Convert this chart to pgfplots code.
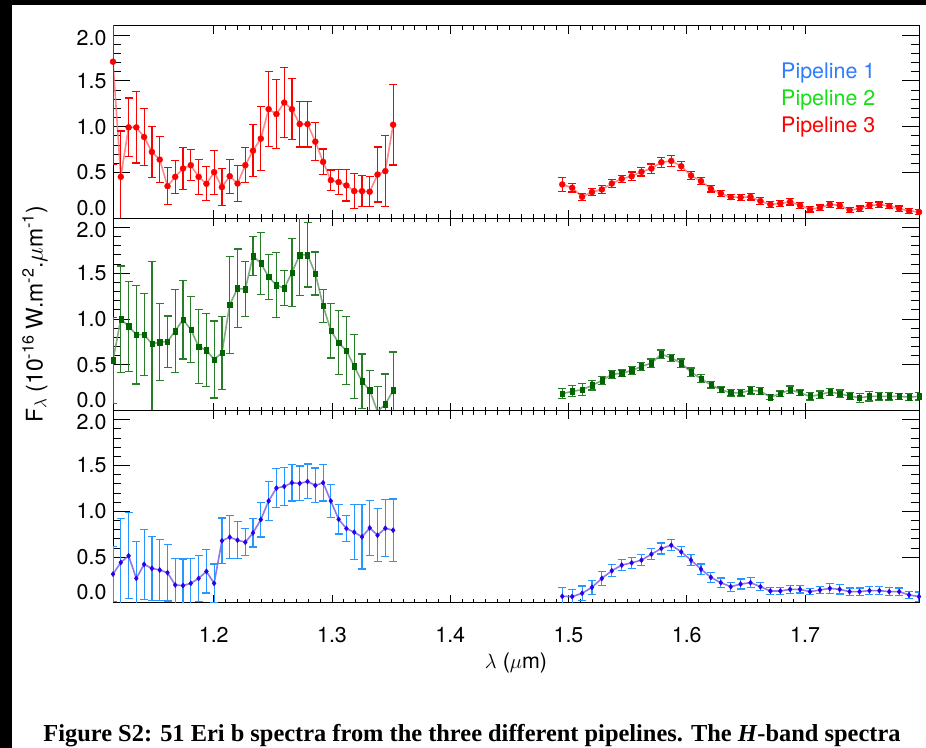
\documentclass[border=0pt]{standalone}
\usepackage{pgfplots}
\pgfplotsset{compat=1.18}
\usepackage{pgfplotstable}
\usepackage{fontspec}
\setmainfont{TeX Gyre Heros}
\newfontfamily\capfont{Liberation Serif}

\definecolor{pOne}{RGB}{45,125,255}
\definecolor{pTwo}{RGB}{20,225,20}
\definecolor{pThree}{RGB}{255,0,0}
\definecolor{markgreen}{RGB}{0,100,0}
\definecolor{errgreen}{RGB}{40,125,40}
\definecolor{linegreen}{RGB}{115,160,115}
\definecolor{markblue}{RGB}{40,0,240}
\definecolor{errblue}{RGB}{40,150,255}
\definecolor{lineblue}{RGB}{125,95,230}
\definecolor{linered}{RGB}{255,115,115}

\pgfplotstableread{
x y e
1.1148 1.710 1.12
1.1214 0.453 0.50
1.1280 0.993 0.32
1.1345 0.993 0.39
1.1411 0.888 0.31
1.1477 0.725 0.28
1.1543 0.641 0.25
1.1609 0.351 0.20
1.1674 0.453 0.18
1.1740 0.544 0.23
1.1806 0.580 0.17
1.1872 0.453 0.19
1.1938 0.377 0.185
1.2003 0.504 0.24
1.2069 0.340 0.20
1.2135 0.460 0.185
1.2201 0.380 0.195
1.2267 0.580 0.19
1.2332 0.739 0.285
1.2398 0.870 0.35
1.2464 1.192 0.41
1.2530 1.138 0.38
1.2596 1.264 0.38
1.2661 1.192 0.335
1.2727 1.029 0.25
1.2793 1.029 0.25
1.2859 0.837 0.21
1.2925 0.616 0.14
1.2990 0.417 0.11
1.3056 0.395 0.135
1.3122 0.359 0.17
1.3188 0.297 0.19
1.3254 0.297 0.17
1.3319 0.290 0.165
1.3385 0.478 0.30
1.3451 0.515 0.39
1.3517 1.022 0.44
}\redJ

\pgfplotstableread{
x y e
1.4947 0.370 0.075
1.5031 0.333 0.045
1.5115 0.235 0.037
1.5198 0.286 0.04
1.5282 0.315 0.04
1.5366 0.380 0.04
1.5450 0.431 0.04
1.5534 0.460 0.045
1.5617 0.507 0.045
1.5701 0.543 0.05
1.5785 0.612 0.055
1.5869 0.627 0.06
1.5953 0.569 0.05
1.6036 0.467 0.045
1.6120 0.406 0.04
1.6204 0.322 0.035
1.6288 0.272 0.035
1.6372 0.232 0.03
1.6455 0.228 0.03
1.6539 0.235 0.035
1.6623 0.188 0.035
1.6707 0.152 0.035
1.6791 0.163 0.035
1.6874 0.181 0.035
1.6958 0.141 0.035
1.7042 0.098 0.03
1.7126 0.116 0.03
1.7210 0.152 0.03
1.7293 0.141 0.03
1.7377 0.091 0.03
1.7461 0.105 0.03
1.7545 0.141 0.03
1.7629 0.148 0.03
1.7712 0.134 0.03
1.7796 0.105 0.03
1.7880 0.080 0.03
1.7964 0.069 0.03
}\redH

\pgfplotstableread{
x y e
1.1148 0.550 0.47
1.1214 0.999 0.58
1.1280 0.921 0.49
1.1345 0.830 0.54
1.1411 0.830 0.45
1.1477 0.729 0.90
1.1543 0.747 0.42
1.1609 0.754 0.28
1.1674 0.870 0.45
1.1740 0.993 0.43
1.1806 0.885 0.36
1.1872 0.700 0.40
1.1938 0.660 0.40
1.2003 0.558 0.42
1.2069 0.631 0.40
1.2135 1.156 0.53
1.2201 1.334 0.43
1.2267 1.326 0.30
1.2332 1.689 0.215
1.2398 1.609 0.34
1.2464 1.461 0.245
1.2530 1.370 0.355
1.2596 1.337 0.19
1.2661 1.508 0.37
1.2727 1.700 0.44
1.2793 1.700 0.35
1.2859 1.497 0.235
1.2925 1.145 0.18
1.2990 0.874 0.30
1.3056 0.740 0.35
1.3122 0.656 0.375
1.3188 0.482 0.35
1.3254 0.319 0.30
1.3319 0.221 0.22
1.3385 -0.010 0.27
1.3451 0.069 0.33
1.3517 0.221 0.42
}\greenJ

\pgfplotstableread{
x y e
1.4947 0.185 0.055
1.5031 0.210 0.06
1.5115 0.228 0.065
1.5198 0.275 0.05
1.5282 0.329 0.04
1.5366 0.395 0.045
1.5450 0.409 0.035
1.5534 0.438 0.04
1.5617 0.482 0.04
1.5701 0.518 0.045
1.5785 0.616 0.045
1.5869 0.576 0.04
1.5953 0.518 0.045
1.6036 0.420 0.045
1.6120 0.348 0.045
1.6204 0.282 0.035
1.6288 0.228 0.03
1.6372 0.195 0.035
1.6455 0.195 0.035
1.6539 0.221 0.04
1.6623 0.213 0.035
1.6707 0.148 0.03
1.6791 0.185 0.03
1.6874 0.228 0.04
1.6958 0.195 0.03
1.7042 0.155 0.04
1.7126 0.174 0.04
1.7210 0.203 0.04
1.7293 0.185 0.04
1.7377 0.159 0.04
1.7461 0.141 0.05
1.7545 0.155 0.05
1.7629 0.155 0.04
1.7712 0.155 0.04
1.7796 0.155 0.035
1.7880 0.148 0.035
1.7964 0.155 0.04
}\greenH

\pgfplotstableread{
x y e
1.1148 0.315 0.30
1.1214 0.442 0.48
1.1280 0.515 0.47
1.1345 0.268 0.40
1.1411 0.421 0.38
1.1477 0.377 0.35
1.1543 0.359 0.33
1.1609 0.330 0.31
1.1674 0.196 0.29
1.1740 0.189 0.29
1.1806 0.214 0.27
1.1872 0.268 0.25
1.1938 0.344 0.235
1.2003 0.214 0.21
1.2069 0.678 0.25
1.2135 0.718 0.235
1.2201 0.685 0.20
1.2267 0.663 0.147
1.2332 0.765 0.155
1.2398 0.910 0.19
1.2464 1.113 0.21
1.2530 1.254 0.215
1.2596 1.272 0.21
1.2661 1.312 0.20
1.2727 1.305 0.19
1.2793 1.326 0.19
1.2859 1.283 0.19
1.2925 1.312 0.20
1.2990 1.113 0.18
1.3056 0.913 0.16
1.3122 0.812 0.145
1.3188 0.772 0.30
1.3254 0.721 0.35
1.3319 0.819 0.30
1.3385 0.739 0.29
1.3451 0.815 0.31
1.3517 0.794 0.34
}\blueJ

\pgfplotstableread{
x y e
1.4947 0.072 0.10
1.5031 0.069 0.08
1.5115 0.105 0.08
1.5198 0.170 0.075
1.5282 0.268 0.075
1.5366 0.351 0.065
1.5450 0.413 0.06
1.5534 0.438 0.06
1.5617 0.467 0.06
1.5701 0.532 0.06
1.5785 0.594 0.06
1.5869 0.630 0.06
1.5953 0.558 0.055
1.6036 0.467 0.06
1.6120 0.369 0.055
1.6204 0.279 0.055
1.6288 0.221 0.05
1.6372 0.177 0.05
1.6455 0.206 0.055
1.6539 0.221 0.055
1.6623 0.177 0.045
1.6707 0.130 0.04
1.6791 0.130 0.04
1.6874 0.148 0.045
1.6958 0.148 0.04
1.7042 0.123 0.035
1.7126 0.141 0.04
1.7210 0.159 0.055
1.7293 0.148 0.05
1.7377 0.123 0.04
1.7461 0.123 0.04
1.7545 0.134 0.045
1.7629 0.134 0.045
1.7712 0.123 0.045
1.7796 0.123 0.04
1.7880 0.087 0.04
1.7964 0.069 0.05
}\blueH

\pgfplotsset{
  panel/.style={
    scale only axis, width=806bp, height=192.3bp,
    xmin=1.1148, xmax=1.7964, ymin=0, ymax=2.1,
    xtick={1.2,1.3,1.4,1.5,1.6,1.7}, minor x tick num=9,
    ytick={0.5,1,1.5,2}, minor y tick num=4,
    yticklabels={0.5,1.0,1.5,\smash{\raisebox{-10bp}{2.0}}},
    extra y ticks={0}, extra y tick labels={\smash{\raisebox{3bp}{0.0}}},
    major tick length=17bp, minor tick length=8bp,
    xtick style={/pgfplots/major tick length=8bp, /pgfplots/minor tick length=4bp},
    tick style={line width=0.9bp, black},
    axis line style={line width=1bp, black},
    /pgf/number format/assume math mode=true,
    /pgf/number format/fixed,
    /pgf/number format/fixed zerofill,
    /pgf/number format/precision=1,
    tick label style={font=\fontsize{21.5}{24}\selectfont},
    yticklabel style={inner ysep=0pt, xshift=-3bp},
    xticklabel style={yshift=-21bp},
    errbars/.style={error bars/.cd, y dir=both, y explicit,
      error bar style={line width=1.2bp, ##1},
      error mark options={rotate=90, mark size=4bp, line width=1.2bp, ##1}},
  },
  redline/.style={linered, line width=1.6bp, opacity=0.85},
  redpts/.style={only marks, pThree, mark=*, mark size=3bp, errbars=pThree},
  greenline/.style={linegreen, line width=1.6bp, opacity=0.9},
  greenpts/.style={only marks, markgreen, mark=square*, mark size=2.8bp, mark options={xscale=0.75}, errbars=errgreen},
  blueline/.style={lineblue, line width=1.6bp, opacity=0.85},
  bluepts/.style={only marks, markblue, mark=diamond*, mark size=2.6bp, errbars=errblue},
}

\begin{document}
\begin{tikzpicture}[x=1bp,y=1bp]
\path[use as bounding box] (0,0) rectangle (926,-748);
\fill[white] (0,0) rectangle (926,-748);
\fill[black] (0,0) rectangle (12,-748);
\fill[black] (0,0) rectangle (926,-5);

% Panel 1: Pipeline 3
\begin{axis}[panel, at={(113bp,-26bp)}, anchor=north west, xticklabels={}]
\addplot[redline] table[x=x,y=y] {\redJ};
\addplot[redline] table[x=x,y=y] {\redH};
\addplot[redpts] table[x=x,y=y,y error=e] {\redJ};
\addplot[redpts] table[x=x,y=y,y error=e] {\redH};
\node[anchor=base west, text=pOne, font=\fontsize{21.5}{24}\selectfont, inner sep=0pt] at (axis cs:1.6797,1.529) {Pipeline 1};
\node[anchor=base west, text=pTwo, font=\fontsize{21.5}{24}\selectfont, inner sep=0pt] at (axis cs:1.6797,1.234) {Pipeline 2};
\node[anchor=base west, text=pThree, font=\fontsize{21.5}{24}\selectfont, inner sep=0pt] at (axis cs:1.6797,0.939) {Pipeline 3};
\end{axis}

% Panel 2: Pipeline 2
\begin{axis}[panel, at={(113bp,-218.3bp)}, anchor=north west, xticklabels={},
  ylabel={F$_\lambda$ (10\textsuperscript{-16} W.m\textsuperscript{-2}.$\mu$m\textsuperscript{-1})},
  ylabel style={at={(axis description cs:-0.097,0.5)}, anchor=center, font=\fontsize{23}{26}\selectfont}]
\addplot[greenline] table[x=x,y=y] {\greenJ};
\addplot[greenline] table[x=x,y=y] {\greenH};
\addplot[greenpts] table[x=x,y=y,y error=e] {\greenJ};
\addplot[greenpts] table[x=x,y=y,y error=e] {\greenH};
\end{axis}

% Panel 3: Pipeline 1
\begin{axis}[panel, at={(113bp,-410.6bp)}, anchor=north west,
  xlabel={$\lambda$ ($\mu$m)},
  xlabel style={font=\fontsize{21.5}{24}\selectfont, yshift=-3bp}]
\addplot[blueline] table[x=x,y=y] {\blueJ};
\addplot[blueline] table[x=x,y=y] {\blueH};
\addplot[bluepts] table[x=x,y=y,y error=e] {\blueJ};
\addplot[bluepts] table[x=x,y=y,y error=e] {\blueH};
\end{axis}

\node[anchor=base, font=\capfont\bfseries\fontsize{24.5}{28}\selectfont, inner sep=0pt] at (472,-741)
  {Figure S2: 51 Eri b spectra from the three different pipelines. The \textit{H}-band spectra};
\end{tikzpicture}
\end{document}
